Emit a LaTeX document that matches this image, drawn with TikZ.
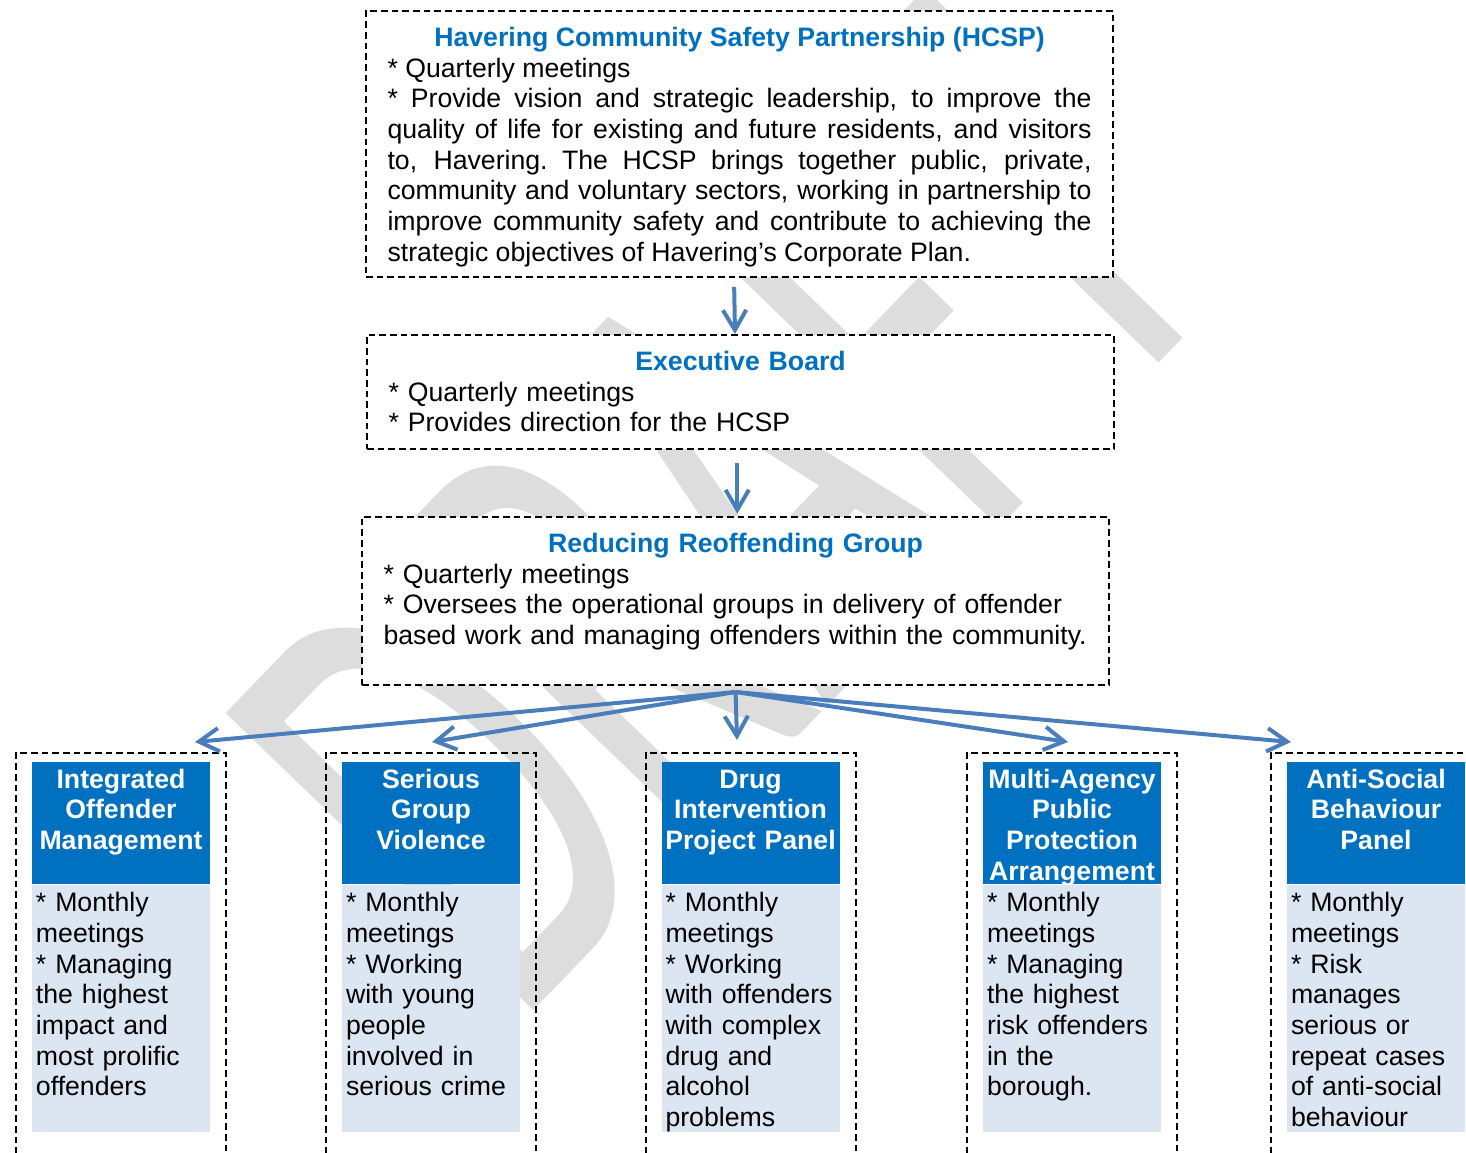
\documentclass[tikz,border=0pt]{standalone}
\usepackage{fontspec}
\setmainfont{Liberation Sans}
\newfontfamily\wmfont{Carlito}
\usetikzlibrary{positioning,arrows.meta}

\definecolor{titleblue}{HTML}{0070C0}
\definecolor{headblue}{HTML}{0070C0}
\definecolor{bodyblue}{HTML}{DCE6F2}
\definecolor{linkblue}{HTML}{4A7EBB}
\definecolor{wmgray}{HTML}{DDDDDD}

\newcommand{\boxtitle}[1]{{\centering\color{titleblue}\bfseries #1\par}}

\tikzset{
  dashbox/.style={draw, line width=0.9pt, dash pattern=on 3pt off 1.8pt},
  topbox/.style={dashbox, fill=white, anchor=north west, inner xsep=9.7pt, inner ysep=0pt,
    text width=316.8pt, text height=16pt},
  group/.style={dashbox, anchor=north, minimum width=94.5pt, minimum height=200pt},
  headbox/.style={fill=headblue, text=white, font=\fontsize{12}{13.8}\selectfont\bfseries,
    align=center, inner sep=0pt, text width=80.1pt, text height=11.5pt, text depth=43.4pt},
  bodybox/.style={fill=bodyblue, align=left, inner xsep=1.8pt, inner ysep=0pt,
    text width=76.5pt, text height=11.9pt, text depth=99.2pt},
  link/.style={draw=linkblue, line width=1.8pt, -{Straight Barb[length=9pt,width=10.5pt]}},
  watermark/.style={text=wmgray, font=\wmfont\fontsize{300}{300}\selectfont,
    rotate=46, anchor=base west, inner sep=0pt}
}

\begin{document}
\begin{tikzpicture}[x=0.45pt, y=-0.45pt, font=\fontsize{12}{13.8}\selectfont]
\useasboundingbox (0,0) rectangle (1466,1152);
\clip (0,0) rectangle (1466,1152);

% watermark behind everything
\node[watermark] (draft) at (515,1030) {\scalebox{0.58}[1]{DRAFT}};

% the three boards
\node[topbox, align=justify, text depth=103.7pt] (hcsp) at (365,10) {%
  \boxtitle{Havering Community Safety Partnership (HCSP)}
  * Quarterly meetings\par
  * Provide vision and strategic leadership, to improve the\linebreak
  quality of life for existing and future residents, and visitors\linebreak
  to, Havering.\ The HCSP brings together public, private,\linebreak
  community and voluntary sectors, working in partnership to\linebreak
  improve community safety and contribute to achieving the\linebreak
  strategic objectives of Havering’s Corporate Plan.};

\node[topbox, align=left, text depth=35.3pt] (exec) at (366,334) {%
  \boxtitle{Executive Board}
  * Quarterly meetings\\{}
  * Provides direction for the HCSP};

\node[topbox, align=left, text depth=59.6pt] (rrg) at (361,516) {%
  \boxtitle{Reducing Reoffending Group}
  * Quarterly meetings\\{}
  * Oversees the operational groups in delivery of offender based work and managing
  offenders within the community.};

\draw[link, shorten <=4pt] ([xshift=-2.5pt]hcsp.south) -- ([xshift=-2.5pt]exec.north);
\draw[link, shorten <=6pt, shorten >=1pt] ([xshift=-1.5pt]exec.south) -- ([xshift=-1.5pt]exec.south |- rrg.north);

% operational groups
\node[group] (iom) at (121,752) {};
\node[headbox, below=4.5pt of iom.north] (iomhead) {Integrated\\Offender\\Management};
\node[bodybox, below=0pt of iomhead] (iombody) {* Monthly\\meetings\\{}* Managing\\the highest\\impact and\\most prolific\\offenders};

\node[group] (sgv) at (431,752) {};
\node[headbox, below=4.5pt of sgv.north] (sgvhead) {Serious\\Group\\Violence};
\node[bodybox, below=0pt of sgvhead] (sgvbody) {* Monthly\\meetings\\{}* Working\\with young\\people\\involved in\\serious crime};

\node[group] (dip) at (750.5,752) {};
\node[headbox, below=4.5pt of dip.north] (diphead) {Drug\\Intervention\\Project Panel};
\node[bodybox, below=0pt of diphead] (dipbody) {* Monthly\\meetings\\{}* Working\\with offenders\\with complex\\drug and\\alcohol\\problems};

\node[group] (mappa) at (1072,752) {};
\node[headbox, below=4.5pt of mappa.north] (mappahead) {Multi-Agency\\Public\\Protection\\Arrangement};
\node[bodybox, below=0pt of mappahead] (mappabody) {* Monthly\\meetings\\{}* Managing\\the highest\\risk offenders\\in the\\borough.};

\node[group] (asb) at (1376,752) {};
\node[headbox, below=4.5pt of asb.north] (asbhead) {Anti-Social\\Behaviour\\Panel};
\node[bodybox, below=0pt of asbhead] (asbbody) {* Monthly\\meetings\\{}* Risk\\manages\\serious or\\repeat cases\\of anti-social\\behaviour};

% fan out from the reoffending group
\coordinate (fan) at ([yshift=-2.7pt]rrg.south);
\coordinate (iomin) at (195,742);
\coordinate (sgvin) at (432,742);
\coordinate (dipin) at (737,740);
\coordinate (mappain) at (1068,742);
\coordinate (asbin) at (1291,742);
\draw[link] (fan) -- (iomin);
\draw[link] (fan) -- (sgvin);
\draw[link] (fan) -- (dipin);
\draw[link] (fan) -- (mappain);
\draw[link] (fan) -- (asbin);
\end{tikzpicture}
\end{document}
